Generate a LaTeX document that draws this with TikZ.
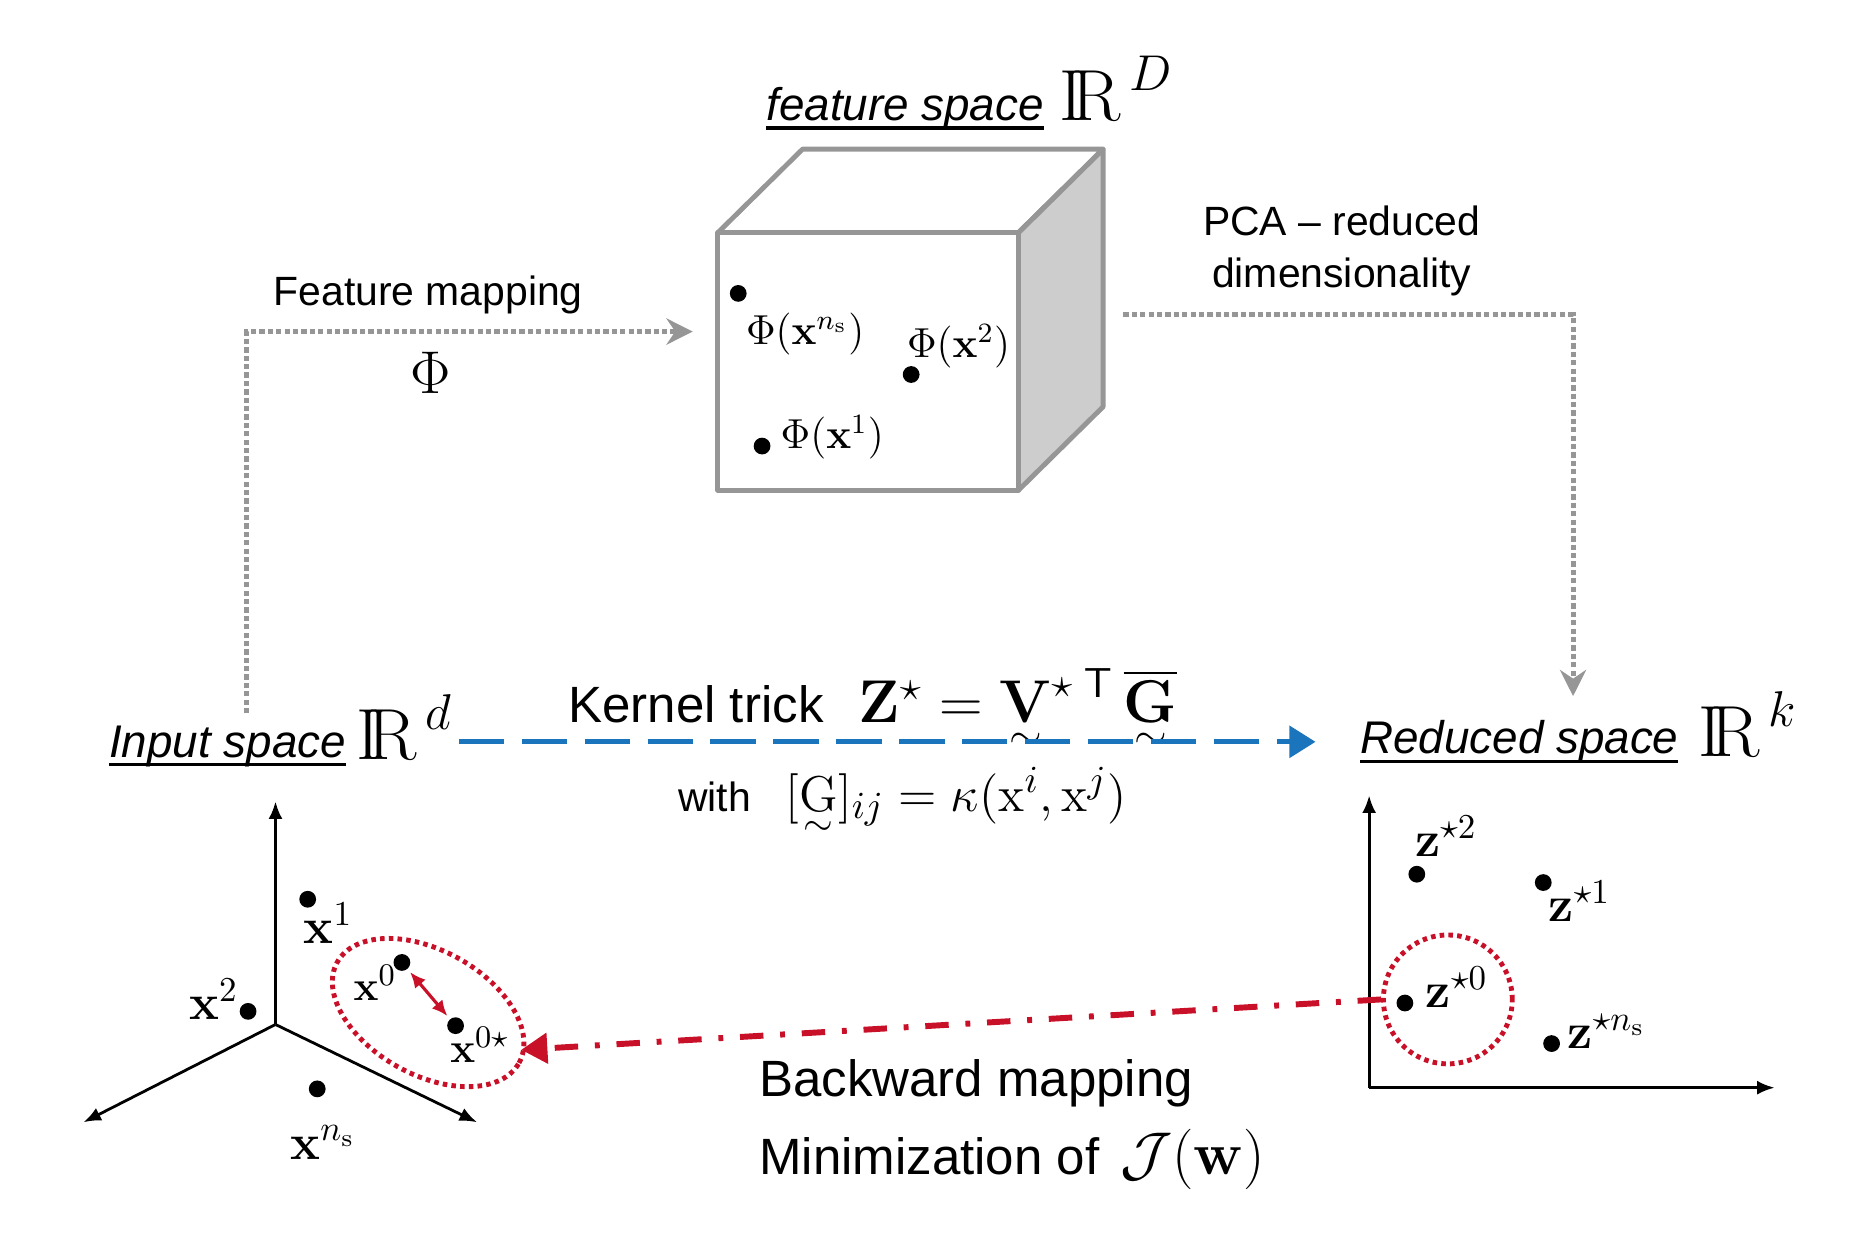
\documentclass[tikz,border=0pt]{standalone}
\usepackage{amsmath}
\usepackage[no-math]{fontspec}
\setmainfont{Liberation Sans}
\usetikzlibrary{arrows.meta,calc,positioning,shapes.geometric}

\definecolor{cubegray}{RGB}{150,150,150}
\definecolor{sidegray}{RGB}{205,205,205}
\definecolor{trickblue}{RGB}{27,117,188}
\definecolor{backred}{RGB}{200,16,40}

\newcommand{\IRsup}[1]{\mathrm{I\!R}^{\,\mbox{\fontsize{15.5}{16}\selectfont$#1$}}}
\newcommand{\ulword}[1]{\setbox0\hbox{#1}\rlap{\rule[-2.6pt]{\wd0}{0.9pt}}\box0}
\newcommand{\tildeunder}[1]{\mathord{\vtop{\offinterlineskip\halign{\hfil##\hfil\cr$#1$\cr\noalign{\kern3pt}$\scriptstyle\sim$\cr}}}}

\begin{document}
\begin{tikzpicture}[
    x=0.012cm, y=-0.012cm,
    txt/.style={inner sep=0pt, font=\fontsize{11.7}{15}\selectfont},
    bigtxt/.style={inner sep=0pt, font=\fontsize{14.6}{18}\selectfont},
    spacetxt/.style={inner sep=0pt, font=\fontsize{13.1}{16}\selectfont\itshape},
    rtxt/.style={inner sep=0pt, font=\fontsize{21.5}{22}\selectfont},
    cubetxt/.style={inner sep=0pt, font=\fontsize{12}{14}\selectfont},
    ptxt/.style={inner sep=0pt, font=\fontsize{14.5}{16}\selectfont},
    smallptxt/.style={inner sep=0pt, font=\fontsize{12.5}{14}\selectfont},
    dot/.style={circle, fill=black, inner sep=0pt, minimum size=4.8pt},
    cube/.style={draw=cubegray, line width=1.4pt, line join=round},
    axis/.style={line width=0.8pt, -{Latex[length=5pt, width=4pt]}},
    mapline/.style={color=cubegray, line width=1.4pt, dash pattern=on 1.5pt off 0.9pt, -{Stealth[length=7.5pt, width=7.5pt, inset=2.5pt]}},
    trickarr/.style={color=trickblue, line width=1.4pt, dash pattern=on 13pt off 5pt, -{Triangle[length=7.5pt, width=9pt]}},
    backarr/.style={color=backred, line width=1.7pt, dash pattern=on 6.7pt off 4.8pt on 1.4pt off 4.8pt, -{Triangle[length=7.5pt, width=8.5pt]}},
    ring/.style={draw=backred, line width=1.4pt, dash pattern=on 1.3pt off 1.2pt, inner sep=0pt}
]
\useasboundingbox (0,0) rectangle (1568,1055);

% feature space and the cube
\node[spacetxt, anchor=base west] (fslab) at (642,101) {\ulword{feature space}};
\node[rtxt, anchor=base west] (fsR) at (888,101) {$\IRsup{D}$};

\filldraw[cube, fill=sidegray] (854,195) -- (925,125) -- (925,341) -- (854,411) -- cycle;
\draw[cube] (602,195) -- (673,125) -- (925,125) -- (854,195);
\node[cube, minimum width=3.024cm, minimum height=2.592cm, inner sep=0pt] (front) at (728,303) {};

\node[dot] (fns) at (619,246) {};
\node[cubetxt, anchor=base west] (fnslab) at (625,289) {$\Phi(\mathbf{x}^{n_\mathrm{s}})$};
\node[dot] (f2) at (764,314) {};
\node[cubetxt, anchor=base west] (f2lab) at (760,300) {$\Phi(\mathbf{x}^{2})$};
\node[dot] (f1) at (639,374) {};
\node[cubetxt, anchor=base west] (f1lab) at (654,376) {$\Phi(\mathbf{x}^{1})$};

% space labels
\node[spacetxt, anchor=base west] (input) at (91,635) {\ulword{Input space}};
\node[rtxt, anchor=base west] (inR) at (298,637) {$\IRsup{d}$};
\node[spacetxt, anchor=base west] (reduced) at (1140,632) {\ulword{Reduced space}};
\node[rtxt, anchor=base west] (redR) at (1424,634) {$\IRsup{k}$};

% feature mapping
\node[txt, anchor=base] (fmlab) at (359,256) {Feature mapping};
\node[inner sep=0pt, font=\fontsize{17}{17}\selectfont] (phi) at (361,313) {$\Phi$};
\coordinate (fmcorner) at (207,278);
\draw[mapline, shorten <=3.4pt, shorten >=6.5pt] (input.north -| fmcorner) -- (fmcorner) -- (front.west |- fmcorner);

% PCA
\node[txt, align=center, anchor=base] (pcalab) at (1125,241) {PCA -- reduced\\dimensionality};
\coordinate (pcastart) at (942,264);
\coordinate (pcacorner) at (1319,264);
\draw[mapline, shorten >=6.8pt] (pcastart) -- (pcacorner) -- (pcacorner |- reduced.north);

% kernel trick
\node[bigtxt, anchor=base west] (trick) at (476,606) {Kernel trick\hspace{10pt}{\fontsize{18.3}{19}\selectfont$\mathbf{Z}^{\star}=\tildeunder{\mathbf{V}}^{\star\;\mathsf{T}}\,\overline{\tildeunder{\mathbf{G}}}$}};
\node[txt, anchor=base west] (with) at (568,680) {with\hspace{10pt}{\fontsize{15}{16}\selectfont$[\tildeunder{\mathrm{G}}]_{ij}=\kappa(\mathrm{x}^{i},\mathrm{x}^{j})$}};
\coordinate (trickline) at (760,622);
\draw[trickarr, shorten <=1.5pt, shorten >=12.6pt] (inR.east |- trickline) -- (reduced.west |- trickline);

% input axes
\coordinate (xo) at (231,859);
\coordinate (xup) at (231,672);
\coordinate (xleft) at (70,941);
\coordinate (xright) at (400,941);
\draw[axis] (xo) -- (xup);
\draw[axis] (xo) -- (xleft);
\draw[axis] (xo) -- (xright);

\node[dot] (x1) at (258,754) {};
\node[ptxt, anchor=base west] (x1lab) at (254,791) {$\mathbf{x}^{1}$};
\node[dot] (x2) at (208,848) {};
\node[ptxt, anchor=base west] (x2lab) at (158,855) {$\mathbf{x}^{2}$};
\node[dot] (xns) at (266,913) {};
\node[ptxt, anchor=base west] (xnslab) at (243,972) {$\mathbf{x}^{n_\mathrm{s}}$};
\node[dot] (x0) at (337,807) {};
\node[smallptxt, anchor=base west] (x0lab) at (296,839) {$\mathbf{x}^{0}$};
\node[dot] (x0s) at (382,860) {};
\node[smallptxt, anchor=base west] (x0slab) at (377,891) {$\mathbf{x}^{0\star}$};
\draw[backred, line width=0.9pt, {Latex[length=4.5pt, width=4pt]}-{Latex[length=4.5pt, width=4pt]}, shorten <=1pt, shorten >=1pt] (x0) -- (x0s);
\node[ring, ellipse, minimum width=2.09cm, minimum height=1.25cm, rotate=-29] (xring) at (359,849) {};

% reduced axes
\coordinate (zo) at (1148,912);
\coordinate (zup) at (1148,667);
\coordinate (zright) at (1488,912);
\draw[axis] (zo) -- (zup);
\draw[axis] (zo) -- (zright);

\node[dot] (z2) at (1188,733) {};
\node[ptxt, anchor=base west] (z2lab) at (1186,718) {$\mathbf{z}^{\star2}$};
\node[dot] (z1) at (1294,740) {};
\node[ptxt, anchor=base west] (z1lab) at (1298,773) {$\mathbf{z}^{\star1}$};
\node[dot] (z0) at (1178,841) {};
\node[ptxt, anchor=base west] (z0lab) at (1195,845) {$\mathbf{z}^{\star0}$};
\node[dot] (zns) at (1301,875) {};
\node[ptxt, anchor=base west] (znslab) at (1314,879) {$\mathbf{z}^{\star n_\mathrm{s}}$};
\node[ring, circle, minimum size=1.296cm] (zring) at (1214,838) {};

% backward mapping
\draw[backarr] (zring.west) -- ($(xring.east)+(0,-12)$);
\node[bigtxt, anchor=base west] (backlab) at (636,919) {Backward mapping};
\node[bigtxt, anchor=base west] (minlab) at (636,985) {Minimization of\hspace{6pt}{\fontsize{19}{19}\selectfont$\mathcal{J}(\mathbf{w})$}};
\end{tikzpicture}
\end{document}
